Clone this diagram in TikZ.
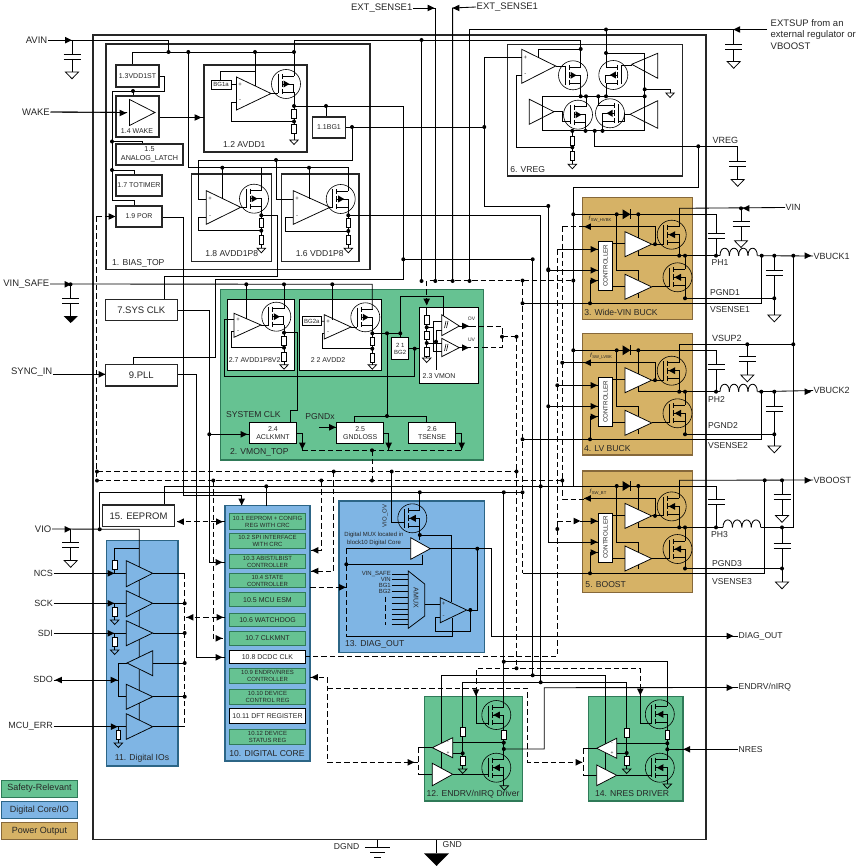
\documentclass[tikz,border=0pt]{standalone}
\usepackage{fontspec}
\setmainfont{Liberation Sans}
\definecolor{safegreen}{HTML}{66C292}
\definecolor{safeedge}{HTML}{2F7A58}
\definecolor{corblue}{HTML}{7FB5E4}
\definecolor{coredge}{HTML}{2C6586}
\definecolor{pwrtan}{HTML}{D6B266}
\definecolor{pwredge}{HTML}{86683A}
\definecolor{ink}{HTML}{262626}
\tikzset{
  wire/.style={line width=0.85pt,draw=black,line join=miter},
  dwire/.style={wire,dash pattern=on 5.5pt off 3pt},
  hair/.style={line width=0.6pt,draw=black},
  amp/.style={line width=0.75pt,draw=black},
  thickbox/.style={draw=black!85,line width=1.5pt,inner sep=0pt,align=center,text=ink},
  midbox/.style={draw=black!85,line width=1.2pt,inner sep=0pt,align=center,text=ink},
  thinbox/.style={draw=black,line width=0.7pt,fill=white,inner sep=0pt,align=center,text=ink},
  greencell/.style={draw=safeedge,line width=0.9pt,fill=safegreen,inner sep=0pt,align=center,text=ink},
  whitecell/.style={draw=black,line width=0.9pt,fill=white,inner sep=0pt,align=center,text=ink},
  txt/.style={inner sep=0.5pt,text=ink},
  f50/.style={font=\fontsize{5}{6}\selectfont},
  f60/.style={font=\fontsize{6}{7}\selectfont},
  f70/.style={font=\fontsize{7}{8.2}\selectfont},
  f72/.style={font=\fontsize{7.2}{8.6}\selectfont},
  f85/.style={font=\fontsize{8.6}{10}\selectfont},
  f90/.style={font=\fontsize{9}{10.5}\selectfont},
  f95/.style={font=\fontsize{9.5}{11.5}\selectfont},
  % transistor with drain on the right and the body arrow pointing right
  mosr/.pic={
    \draw[hair] (0,0) circle[radius=14.5];
    \draw[wire] (-8,-9.5)--(-8,9.5);
    \draw[wire] (-4,-10)--(-4,-5) (-4,-3)--(-4,3) (-4,5)--(-4,10);
    \draw[wire] (-4,-8)--(7.5,-8) (-4,8)--(7.5,8) (-4,0)--(7.5,0)--(7.5,8);
    \fill (3.5,0)--(-2.5,-3.5)--(-2.5,3.5)--cycle;
  },
  % same device with the body arrow pointing left
  mosq/.pic={
    \draw[hair] (0,0) circle[radius=14.5];
    \draw[wire] (-8,-9.5)--(-8,9.5);
    \draw[wire] (-4,-10)--(-4,-5) (-4,-3)--(-4,3) (-4,5)--(-4,10);
    \draw[wire] (-4,-8)--(7.5,-8) (-4,8)--(7.5,8) (-4,0)--(7.5,0)--(7.5,8);
    \fill (-3,0)--(3.5,-3.5)--(3.5,3.5)--cycle;
  },
  resv/.pic={\draw[line width=0.7pt,draw=black,fill=white] (-2.3,-4.4) rectangle (2.3,4.4);},
  gnds/.pic={\draw[amp] (-4.2,0)--(4.2,0)--(0,4.5)--cycle;},
  gndb/.pic={\draw[amp] (-6.5,0)--(6.5,0)--(0,6.8)--cycle;},
}
% filled junction dots
\newcommand\jn[1]{\foreach \q in {#1} {\fill \q circle[radius=2];}}
% small filled arrowheads centred on a point
\newcommand\ahr[1]{\fill #1 ++(3.4,0) -- ++(-6.8,-3.3) -- ++(0,6.6) -- cycle;}
\newcommand\ahl[1]{\fill #1 ++(-3.4,0) -- ++(6.8,-3.3) -- ++(0,6.6) -- cycle;}
\newcommand\ahd[1]{\fill #1 ++(0,3.4) -- ++(-3.3,-6.8) -- ++(6.6,0) -- cycle;}
% box given by its corners: style, name, x1, y1, x2, y2, text
\newcommand\bx[7]{\node[#1,minimum width={#5-#3},minimum height={#6-#4}] (#2) at ({(#3+#5)/2},{(#4+#6)/2}) {#7};}
% capacitor to ground: x, wire start y, first plate y, ground y
\newcommand\capgnd[4]{\draw[wire] (#1,#2)--(#1,#3) ({#1},{#3+5})--(#1,#4);
  \draw[wire] ({#1-8.5},#3)--({#1+8.5},#3) ({#1-8.5},{#3+5})--({#1+8.5},{#3+5});
  \pic at (#1,#4) {gndb};}
% four-turn inductor: x1, x2, y
\newcommand\coil[3]{\foreach \i in {0,1,2,3} {\draw[wire] ({#1+\i*(#2-#1)/4},#3) .. controls ({#1+\i*(#2-#1)/4},{#3-10}) and ({#1+(\i+1)*(#2-#1)/4},{#3-10}) .. ({#1+(\i+1)*(#2-#1)/4},#3);}}
% one switching power stage: bootstrap y, lower rail offset, bootstrap cap plate offset, controller name
\newcommand\buckstage[4]{%
  \begin{scope}[shift={(0,#1)}]
    \draw[wire] (573.3,0)--(716,0)--(716,#3) (716,{#3+5})--(716,41.4);
    \draw[wire] (707.5,#3)--(724.5,#3) (707.5,{#3+5})--(724.5,{#3+5});
    \draw[wire] (616.7,0)--(616.7,56)--(638.3,56)--(638.3,66);
    \draw[wire] (638.3,0)--(638.3,41.4)--(720,41.4);
    \draw[wire] (638.3,79)--(638.3,#2);
    \fill (622.5,-5)--(622.5,5)--(630.5,0)--cycle;
    \draw[wire] (630.7,-5)--(630.7,5);
    \draw[amp,fill=white] (625,17.4)--(625,42.4)--(651.7,29.9)--cycle;
    \draw[amp,fill=white] (625,60)--(625,85)--(651.7,72.6)--cycle;
    \draw[wire] (651.7,29.9)--(663.7,29.9) (651.7,72.6)--(669.5,72.6);
    \draw[wire] (655,29.9)--(655,12.4)--(584,12.4);
    \ahl{(587.5,12.4)}
    \pic at (671.7,20.4) {mosq};
    \pic at (677.5,63) {mosq};
    \draw[wire] (679.2,12.4)--(679.2,-6) (679.2,28.4)--(679.2,41.4);
    \draw[wire] (685,41.4)--(685,55) (685,71)--(685,#2);
    \node[thinbox,minimum width=14.4,minimum height=49] (#4) at (605.4,51.5) {\rotatebox{90}{\fontsize{6.2}{7}\selectfont CONTROLLER}};
    \draw[wire] (612.6,29)--(625,29) (612.6,72)--(625,72);
    \ahr{(594,35)} \ahr{(594,56)} \ahr{(594,66.5)}
    \jn{(616.7,0),(638.3,0),(655,29.9),(679.2,41.4),(685,41.4),(685,#2),(716,41.4)}
  \end{scope}}
\begin{document}
\begin{tikzpicture}[x=1pt,y=-1pt]
\useasboundingbox (0,0) rectangle (858,866);

% device outline
\draw[line width=1.7pt,draw=black!85] (93,35) rectangle (706,839.5);

% coloured function blocks
\bx{draw=safeedge,line width=1.3pt,fill=safegreen}{vmontop}{220.7}{289.3}{483.7}{460}{}
\bx{draw=coredge,line width=1.3pt,fill=corblue}{dios}{106.5}{540.7}{178}{766}{}
\bx{draw=coredge,line width=1.3pt,fill=corblue}{dcore}{225}{505.5}{310}{761}{}
\bx{draw=coredge,line width=1.3pt,fill=corblue}{diag}{339}{501}{484.3}{652.7}{}
\bx{draw=pwredge,line width=1.3pt,fill=pwrtan}{wvin}{582.7}{197.3}{692.7}{319.3}{}
\bx{draw=pwredge,line width=1.3pt,fill=pwrtan}{lvb}{582.7}{333.3}{692.7}{455}{}
\bx{draw=pwredge,line width=1.3pt,fill=pwrtan}{bst}{582.7}{471}{692.7}{592.7}{}
\bx{draw=safeedge,line width=1.3pt,fill=safegreen}{endrv}{424.7}{696.7}{522.7}{801}{}
\bx{draw=safeedge,line width=1.3pt,fill=safegreen}{nres}{588.7}{696.7}{683}{801}{}

% framed blocks
\bx{thickbox}{biastop}{106}{44}{370}{269.5}{}
\bx{midbox}{avdd1}{204}{65}{307}{152}{}
\bx{midbox}{avdd8}{191.7}{174}{271.7}{261.7}{}
\bx{midbox}{vdd18}{281.3}{174}{359}{261.7}{}
\bx{thickbox}{vreg}{507.7}{44.3}{682.7}{176}{}
\bx{thinbox}{box27}{227.3}{299.7}{294.3}{370.3}{}
\bx{thinbox}{box22}{299.3}{299.7}{381.7}{370.3}{}
\bx{thinbox}{box23}{419.3}{307.3}{478.3}{383.3}{}

% pin labels
\node[txt,f95,anchor=east] (pAVIN) at (48,40) {AVIN};
\node[txt,f95,anchor=east] (pWAKE) at (50.5,112) {WAKE};
\node[txt,f95,anchor=east] (pVS) at (50,284) {VIN\_SAFE};
\node[txt,f95,anchor=east] (pSYNC) at (53,372.5) {SYNC\_IN};
\node[txt,f95,anchor=east] (pVIO) at (52,529) {VIO};
\node[txt,f90,anchor=east] (pNCS) at (53.5,573.5) {NCS};
\node[txt,f90,anchor=east] (pSCK) at (53.5,603) {SCK};
\node[txt,f90,anchor=east] (pSDI) at (53.5,633) {SDI};
\node[txt,f90,anchor=east] (pSDO) at (53.5,679.5) {SDO};
\node[txt,f90,anchor=east] (pERR) at (53.5,726.5) {MCU\_ERR};
\node[txt,f95,anchor=east] (pES1) at (413,8) {EXT\_SENSE1};
\node[txt,f95,anchor=west] (pES2) at (476,7) {EXT\_SENSE1};
\node[txt,f95,anchor=west,align=left] (pEXT) at (770,34.5) {EXTSUP from an\\external regulator or\\VBOOST};
\node[txt,f90,anchor=west] (pVREG) at (712,140) {VREG};
\node[txt,f90,anchor=west] (pVIN) at (785,207.5) {VIN};
\node[txt,f90,anchor=west] (pB1) at (813,256) {VBUCK1};
\node[txt,f90,anchor=west] (pB2) at (813,390.5) {VBUCK2};
\node[txt,f90,anchor=west] (pBO) at (813,480) {VBOOST};
\node[txt,f90,anchor=west] (pSUP2) at (711.5,338.7) {VSUP2};
\node[txt,f85,anchor=west] at (711,263) {PH1};
\node[txt,f85,anchor=west] at (709.5,292.5) {PGND1};
\node[txt,f85,anchor=west] at (709.5,310) {VSENSE1};
\node[txt,f85,anchor=west] at (707.5,399.5) {PH2};
\node[txt,f85,anchor=west] at (707.5,425.7) {PGND2};
\node[txt,f85,anchor=west] at (707.5,445.7) {VSENSE2};
\node[txt,f85,anchor=west] at (710.5,534.7) {PH3};
\node[txt,f85,anchor=west] at (711.5,563.3) {PGND3};
\node[txt,f85,anchor=west] at (711.5,581.7) {VSENSE3};
\node[txt,f85,anchor=west] (pDIAG) at (738,636) {DIAG\_OUT};
\node[txt,f85,anchor=west] (pEND) at (738,687.5) {ENDRV/nIRQ};
\node[txt,f85,anchor=west] (pNRES) at (738,749.3) {NRES};
\node[txt,f85,anchor=west] at (442,845) {GND};
\node[txt,f85,anchor=east] at (360,847) {DGND};

% supply input and its decoupling
\draw[wire] (pAVIN.east)--(168.5,40)--(168.5,52);
\ahr{(68.5,40.2)}
\capgnd{72}{40}{54}{72}
\draw[wire] (132,65)--(132,52)--(294,52);
\draw[wire] (294,40)--(294,76) (294,92)--(294,140);
\draw[wire] (294,40)--(580.7,40)--(580.7,67.3);
\draw[wire] (421.5,40)--(421.5,281);
\draw[wire] (255,52)--(255,86) (255,71.5)--(220,71.5)--(220,80);
\draw[wire] (188.3,52)--(188.3,167.7)--(348.3,167.7)--(348.3,191);
\draw[wire] (222.3,167.7)--(222.3,199) (309,167.7)--(309,199) (261.3,167.7)--(261.3,190.7);

% bias latch chain
\draw[wire] (159,76.5)--(164.5,76.5)--(164.5,91)--(112,91)--(112,200)--(134.5,200)--(134.5,206);
\draw[wire] (133,91)--(133,96) (112,141.5)--(142,141.5)--(142,144) (112,170)--(134.5,170)--(134.5,175);
\draw[wire] (pWAKE.east)--(127,112.5) (159,117.5)--(204,117.5);
\ahr{(123,113)} \ahr{(198,117.5)}

% bias amplifier feedback and reference nets
\draw[wire] (236.5,102)--(231,102)--(231,121.5)--(294,121.5);
\draw[wire] (271,93.5)--(278,93.5);
\draw[wire] (294,106)--(403.3,106)--(403.3,279.3)--(215.7,279.3)--(215.7,357.3)--(133.7,357.3)--(133.7,364.7);
\draw[wire] (326,106)--(326,117);
\draw[wire] (345.5,127)--(484.3,127);
\draw[wire] (352,127)--(352,160)--(198.7,160)--(198.7,199)--(206.3,199);
\draw[wire] (276,160)--(276,199)--(293.3,199);
\draw[wire] (261.3,206.7)--(261.3,248.3) (348.3,207)--(348.3,248.3);
\draw[wire] (261.3,215.3)--(277.3,215.3)--(277.3,276.3)--(164.3,276.3)--(164.3,299.3);
\draw[wire] (206.3,217)--(198.3,217)--(198.3,230.7)--(261.3,230.7);
\draw[wire] (293.3,217)--(285.3,217)--(285.3,231)--(348.3,231);
\draw[wire] (240.7,207.3)--(246,207.3) (330,207.3)--(332.7,207.3);
\draw[wire] (348.3,215.3)--(540.7,215.3)--(540.7,682.3);
\draw[wire] (403.3,259.3)--(532.7,259.3)--(532.7,676);

% safe supply rail
\draw[wire] (pVS.east)--(372.3,284.3)--(372.3,309.3);
\draw[wire] (246.3,284.3)--(246.3,319) (284,284.3)--(284,308.7) (332.3,284.3)--(332.3,319.5);
\ahr{(68,284.3)}
\draw[wire] (70.5,284.3)--(70.5,298.5) (70.5,303.5)--(70.5,316);
\draw[wire] (62,298.5)--(79,298.5) (62,303.5)--(79,303.5);
\fill (63.5,316)--(78,316)--(70.7,323)--cycle;

% external sense and regulator supply pins
\draw[wire] (pES1.east)--(435.3,8)--(435.3,281);
\ahr{(431,8)}
\draw[wire] (pES2.west)--(452.6,8)--(452.6,281);
\ahl{(456,8)}
\draw[wire] (767,29.5)--(469.5,29.5)--(469.5,281);
\ahl{(736.7,29.5)}
\capgnd{733.7}{29.5}{44.3}{61.5}
\draw[wire] (606,29.5)--(606,67);
\draw[dwire] (426.7,303)--(426.7,280.5)--(573.5,280.5);
\ahd{(426.7,302)}

% regulator block
\draw[wire] (484.3,57.3)--(521.7,57.3) (484.3,57.3)--(484.3,206)--(548.3,206)--(548.3,542)--(598.3,542);
\draw[wire] (521.7,75)--(516.3,75)--(516.3,147.3)--(572.3,147.3);
\draw[wire] (538.3,57.5)--(538.3,49)--(580.7,49);
\draw[wire] (555.7,66)--(565,66);
\draw[wire] (580.7,83.3)--(580.7,96.3);
\draw[wire] (606,83)--(606,96.3);
\draw[wire] (631.7,65)--(621.3,65);
\draw[wire] (606,53)--(644.7,53)--(644.7,130.9);
\draw[wire] (542.3,130.9)--(644.7,130.9) (542.3,96.3)--(644.7,96.3) (542.3,96.3)--(542.3,130.9);
\draw[wire] (644.7,89.3)--(670,89.3)--(670,93);
\pic at (670,93) {gnds};
\draw[wire] (586,96.3)--(586,106.7) (598.3,96.3)--(598.3,105.3)--(602.5,105.3);
\draw[wire] (585.5,122.7)--(585.5,130.9) (602.5,121.3)--(602.5,130.9);
\draw[wire] (554,111.7)--(562,111.7)--(562,121)--(570,121);
\draw[wire] (630,114.3)--(624,114.3)--(624,121)--(618,121);
\draw[wire] (572.3,130.9)--(572.3,164.3);
\draw[wire] (594.7,130.9)--(594.7,146.3)--(737.7,146.3);
\draw[wire] (698.3,146.3)--(698.3,187.3)--(573.3,187.3)--(573.3,486);
\capgnd{737.7}{146.3}{161.5}{179.5}
\draw[amp] (521.7,49.3)--(521.7,83.3)--(555.7,66)--cycle;
\draw[amp] (631.7,64.3)--(657.7,53.3)--(657.7,78.3)--cycle;
\draw[amp] (529.3,99.3)--(529.3,124.3)--(554,111.7)--cycle;
\draw[amp] (630,114.3)--(657.7,100.7)--(657.7,128.3)--cycle;
\pic at (573,75.3) {mosr};
\pic[xscale=-1] at (613.3,75) {mosr};
\pic at (578,114.7) {mosr};
\pic[xscale=-1] at (610,113.3) {mosr};
\pic at (572.3,140.5) {resv};
\pic at (572.3,156) {resv};
\pic at (572.3,164.3) {gnds};
\node[txt,f60] at (525.3,57.5) {+};
\node[txt,f60] at (525.3,75) {-};
\jn{(580.7,49),(606,53),(644.7,89.3),(580.7,96.3),(586,96.3),(598.3,96.3),(606,96.3),(644.7,96.3),(572.3,130.9),(585.5,130.9),(594.7,130.9),(602.5,130.9),(572.3,147.3),(698.3,146.3)}

% switching stages
\buckstage{214.3}{84}{19}{ctrlA}
\buckstage{350.3}{84}{13.7}{ctrlB}
\buckstage{486}{82.5}{13.4}{ctrlC}

% first stage connections
\draw[wire] (pVIN.west)--(679.2,208.3);
\ahl{(746,208.3)}
\capgnd{741}{208.3}{221.7}{240.7}
\coil{720}{757.3}{255.7}
\draw[wire] (757.3,255.7)--(pB1.west);
\ahr{(808,255.7)}
\draw[wire] (761.7,255.7)--(761.7,303.3)--(522.5,303.3);
\draw[wire] (684,298.3)--(774.3,298.3);
\capgnd{774.3}{255.7}{270.7}{315}
\draw[wire] (793.3,255.7)--(793.3,527.4)--(782,527.4);
\draw[wire] (557.3,249.3)--(598.3,249.3) (548.3,270.3)--(598.3,270.3) (590,280.8)--(598.3,280.8) (590,280.8)--(590,303.3);
\draw[dwire] (562.3,226.7)--(584,226.7);
\draw[dwire] (562.3,226.7)--(562.3,499)--(584,499);

% second stage connections
\draw[wire] (679.2,344.3)--(793.3,344.3);
\capgnd{747.3}{344.3}{356.7}{375}
\coil{720}{757.3}{391.7}
\draw[wire] (757.3,391.7)--(pB2.west);
\ahr{(808,391.7)}
\draw[wire] (761.3,391.7)--(761.3,439.3)--(522.5,439.3);
\draw[wire] (684,434.3)--(774.3,434.3);
\capgnd{774.3}{391.7}{406.5}{446}
\draw[wire] (557.3,385.3)--(598.3,385.3) (548.3,406.3)--(598.3,406.3) (590,416.8)--(598.3,416.8) (590,416.8)--(590,439.3);
\draw[wire] (562.3,362.7)--(584,362.7);

% third stage connections
\draw[wire] (679.2,480.3)--(pBO.west);
\ahr{(808,480.3)}
\draw[wire] (720,527.4)--(723,527.4) (760.7,527.4)--(782,527.4);
\coil{723}{760.7}{527.4}
\draw[wire] (764.7,480.3)--(764.7,573.3)--(522.5,573.3);
\draw[wire] (684,568.5)--(782,568.5);
\capgnd{782}{480.3}{494}{515.5}
\capgnd{782}{527.4}{543.3}{582}
\draw[wire] (590,552.5)--(598.3,552.5) (590,552.5)--(590,573.3);
\draw[dwire] (557.3,521)--(578,521);
\draw[wire] (580,521)--(598.3,521);
\ahr{(577,521)}

\jn{(573.3,214.3),(573.3,350.3),(741,208.3),(761.7,255.7),(774.3,255.7),(793.3,255.7),(774.3,298.3),(590,303.3)}
\jn{(557.3,385.3),(548.3,270.3),(548.3,406.3),(562.3,362.7),(747.3,344.3),(793.3,344.3),(761.3,391.7),(774.3,391.7),(774.3,434.3),(590,439.3)}
\jn{(764.7,480.3),(782,480.3),(782,527.4),(782,568.5),(590,573.3),(557.3,529),(522.5,303.3),(522.5,439.3),(573.3,280.5)}

% rails between the regulators and the logic
\draw[dwire] (557.3,249.3)--(557.3,656)--(306,656);
\draw[dwire] (522.5,280.5)--(522.5,573.3);
\draw[dwire] (516.5,336.7)--(516.5,668.3);
\draw[dwire] (96.5,216.5)--(116,216.5) (96.5,216.5)--(96.5,480.5);
\ahr{(112,216.5)}
\draw[dwire] (97,471.5)--(516.5,471.5);
\draw[dwire] (97,480.5)--(562.3,480.5);
\draw[wire] (164.3,505)--(164.3,486.3)--(573.3,486.3);
\draw[wire] (99.7,529.3)--(99.7,492.3)--(522.5,492.3);
\draw[wire] (183.3,217)--(162,217) (183.3,217)--(183.3,495)--(241.7,495)--(241.7,505);
\ahd{(241.7,502)}
\draw[wire] (266.3,486.3)--(266.3,505.5);
\draw[wire] (177.3,310.3)--(209.3,310.3)--(209.3,562.3)--(225,562.3);
\draw[wire] (209.3,434.3)--(249.3,434.3);
\draw[wire] (177.3,374.3)--(196.3,374.3)--(196.3,657.3)--(225,657.3);
\draw[dwire] (213.3,480.5)--(213.3,638.3)--(225,638.3);
\draw[wire] (pSYNC.east|-105,374.3)--(105.3,374.3);
\ahr{(102,374.3)}
\ahr{(219,562.3)} \ahr{(219,657.3)} \ahr{(219,638.3)} \ahr{(244,434.3)}
\draw[dwire] (177,521.7)--(225,521.7);
\ahl{(180.5,521.7)} \ahr{(219.5,521.7)}
\draw[dwire] (186,617.3)--(225,617.3);
\ahl{(190,617.3)} \ahr{(220,617.3)}
\draw[dwire] (321.3,480.5)--(321.3,550.3)--(311,550.3);
\draw[dwire] (333.7,471.5)--(333.7,571)--(311,571);
\ahl{(315,550.3)} \ahl{(315,571)}
\draw[dwire] (310,587.3)--(346.3,587.3);
\ahr{(342.5,587.3)}
\draw[wire] (391.7,471.5)--(391.7,522.3)--(404.3,522.3);
\draw[wire] (419.8,492.3)--(419.8,510.3);
\draw[wire] (503.8,492.3)--(503.8,707);
\draw[wire] (477.3,548.7)--(491.7,548.7)--(491.7,636)--(pDIAG.west);
\ahr{(730,636)}
\jn{(97,471.5),(97,480.5),(213.3,480.5),(321.3,480.5),(372,480.5),(562.3,480.5),(333.7,471.5),(391.7,471.5),(516.5,471.5),(516.5,336.7)}
\jn{(209.3,434.3),(266.3,486.3),(540.7,486.3),(419.8,492.3),(503.8,492.3),(522.5,492.3),(99.7,529.3),(548.3,269.3),(403.3,259.3),(484.3,127),(352,127),(326,106),(276,160),(222.3,167.7),(309,167.7)}
\jn{(421.5,40),(421.5,281),(435.3,281),(452.6,281),(469.5,281),(522.5,280.5),(168.5,52),(188.3,52),(255,52),(294,52),(294,106),(294,121.5),(261.3,215.3),(261.3,230.7),(348.3,215.3),(348.3,231),(606,29.5)}
\jn{(133,91),(112,141.5),(112,170),(246.3,284.3),(284,284.3),(332.3,284.3),(70.5,284.3)}
\jn{(548.3,206),(532.7,259.3)}

% block labels and small boxes of the bias section
\bx{midbox,fill=white,f70}{vdd1st}{116}{65}{159}{87}{1.3VDD1ST}
\bx{midbox,fill=white}{wakebox}{116}{96}{159}{137}{}
\draw[amp,fill=white] (129.5,99.5)--(129.5,125.5)--(155,112.5)--cycle;
\draw[wire] (pWAKE.east)--(127,112.5);
\ahr{(123,113)}
\node[txt,f70] at (137,131) {1.4 WAKE};
\bx{midbox,fill=white,f72}{alatch}{116}{144}{183}{165}{1.5\\ANALOG\_LATCH}
\bx{midbox,fill=white,f70}{totimer}{116}{175}{162}{196}{1.7 TOTIMER}
\bx{midbox,fill=white,f70}{por}{116}{206}{162}{227}{1.9 POR}
\bx{midbox,fill=white,f70}{bgone}{312.5}{117}{345.5}{138}{1.1BG1}
\bx{thinbox,f60}{bgonea}{211}{80}{231}{89}{BG1a}
\draw[wire] (bgonea.east)--(236.5,84.5);
\draw[amp] (236.5,77)--(236.5,110)--(271,93.5)--cycle;
\draw[amp] (206.3,190.7)--(206.3,224.3)--(240.7,207.3)--cycle;
\draw[amp] (293.3,190.7)--(293.3,224.3)--(330,207.3)--cycle;
\node[txt,f60] at (240,84.5) {+};
\node[txt,f60] at (240,101) {-};
\node[txt,f60] at (210,199) {+};
\node[txt,f60] at (210,217) {-};
\node[txt,f60] at (297,199) {+};
\node[txt,f60] at (297,217) {-};
\pic at (286,84) {mosr};
\pic at (254,198.7) {mosr};
\pic at (340.7,199) {mosr};
\pic at (294,113.5) {resv};
\pic at (294,129) {resv};
\pic at (294,140) {gnds};
\pic at (261.3,222.5) {resv};
\pic at (261.3,240) {resv};
\pic at (261.3,248.3) {gnds};
\pic at (348.3,222.5) {resv};
\pic at (348.3,240) {resv};
\pic at (348.3,248.3) {gnds};
\node[txt,f85] at (244.3,145) {1.2 AVDD1};
\node[txt,f85] at (231.7,254) {1.8 AVDD1P8};
\node[txt,f85] at (319.7,254) {1.6 VDD1P8};
\node[txt,f85] at (138.3,263) {1. BIAS\_TOP};
\node[txt,f85] at (527.7,169.7) {6. VREG};
\bx{thickbox,fill=white,f95}{sysclk}{105.3}{299.3}{177.3}{320.7}{7.SYS CLK}
\bx{thickbox,fill=white,f95}{pll}{105.3}{364.7}{177.3}{386}{9.PLL}
\bx{thickbox,fill=white,f95}{eeprom}{102.7}{505}{174.3}{526.7}{15. EEPROM}

% supply monitor block
\draw[wire] (234,319.3)--(224.3,319.3)--(224.3,376.3)--(414.7,376.3)--(414.7,348.7);
\draw[wire] (234,331.7)--(231,331.7)--(231,347.7)--(284,347.7);
\draw[wire] (261,325)--(268.3,325);
\draw[wire] (284,324.7)--(284,364.7);
\draw[wire] (284,332.7)--(297.3,332.7)--(297.3,410.3)--(290,410.3)--(290,422.7);
\draw[amp] (234,313.3)--(234,337.3)--(261,325)--cycle;
\pic at (276.3,316.7) {mosr};
\pic at (284,341.2) {resv};
\pic at (284,357) {resv};
\pic at (284,364.7) {gnds};
\node[txt,f60] at (238,319.3) {+};
\node[txt,f60] at (238,331.7) {-};
\node[txt,f70] at (254.7,359.7) {2.7 AVDD1P8V2};
\bx{thinbox,f60}{bgtwoa}{302}{316.7}{321.7}{325.7}{BG2a}
\draw[wire] (bgtwoa.east)--(324.3,321.3);
\draw[wire] (324.3,333)--(322.3,333)--(322.3,348.7)--(372.3,348.7);
\draw[wire] (351,327)--(357.3,327);
\draw[wire] (372.3,325.3)--(372.3,364.7);
\draw[amp] (324.3,314.7)--(324.3,339)--(351,327)--cycle;
\pic at (365.3,317.3) {mosr};
\pic at (372.3,341.3) {resv};
\pic at (372.3,357.5) {resv};
\pic at (372.3,364.7) {gnds};
\node[txt,f60] at (328,321.3) {+};
\node[txt,f60] at (328,333) {-};
\node[txt,f70] at (328,360) {2 2 AVDD2};
\draw[wire] (372.3,333.3)--(400.3,333.3);
\draw[wire] (387,333.3)--(387,416);
\draw[wire] (354.3,422.7)--(354.3,416)--(426.7,416)--(426.7,422.7);
\draw[wire] (400.3,337.3)--(400.3,296.7)--(443.3,296.7)--(443.3,316);
\bx{thinbox,f60}{bgtwo}{391.7}{337.3}{408.7}{359.7}{2 1\\BG2}
\draw[wire] (bgtwo.east|-408.7,348.7)--(419.3,348.7);
\draw[wire] (426.7,308)--(426.7,358);
\pic at (426.7,319.5) {resv};
\pic at (426.7,335.3) {resv};
\pic at (426.7,351.7) {resv};
\pic at (426.7,358) {gnds};
\draw[wire] (426.7,327.3)--(433.3,327.3)--(433.3,321.7)--(441.7,321.7) (433.3,327.3)--(433.3,351)--(441.7,351);
\draw[wire] (426.7,343)--(441.7,343);
\draw[wire] (436,341.7)--(436,370) (436,341.7)--(436,330.3)--(441.7,330.3);
\draw[amp] (441.7,314.7)--(441.7,335.7)--(459.3,326)--cycle;
\draw[amp] (441.7,338.3)--(441.7,356.7)--(459.3,347.7)--cycle;
\draw[hair] (444.5,328)--(446,321) (446.5,328)--(448,321) (444.5,351)--(446,344) (446.5,351)--(448,344);
\draw[wire] (459.3,326)--(470,326) (459.3,347.7)--(470,347.7);
\ahr{(465.5,326)} \ahr{(465.5,347.7)}
\node[txt,f50] at (471.5,319) {OV};
\node[txt,f50] at (471.5,339.5) {UV};
\node[txt,f70] at (439,375.7) {2.3 VMON};
\draw[dwire] (470,326)--(502,326)--(502,347.7)--(470,347.7);
\draw[dwire] (502,336.7)--(516.5,336.7);
\jn{(284,332.7),(284,347.7),(372.3,333.3),(372.3,348.7),(387,333.3),(400.3,333.3),(387,416),(414.7,348.7),(426.7,327.3),(426.7,343),(436,341.7),(502,336.7)}

\bx{thinbox,f70}{aclk}{249.3}{422.7}{296.7}{443.3}{2.4\\ACLKMNT}
\bx{thinbox,f70}{gndl}{336.7}{422.7}{383.7}{443.3}{2.5\\GNDLOSS}
\bx{thinbox,f70}{tsen}{408.3}{422.7}{455.7}{443.3}{2.6\\TSENSE}
\draw[wire] (296.7,433.7)--(302.3,433.7)--(302.3,450);
\draw[wire] (383.7,433.7)--(388.7,433.7)--(388.7,450);
\draw[wire] (455.7,433.7)--(461.7,433.7)--(461.7,450);
\ahd{(302.3,446)} \ahd{(388.7,446)} \ahd{(461.7,446)}
\draw[dwire] (302.3,450.3)--(463.3,450.3);
\draw[dwire] (372,450.3)--(372,480.5);
\fill (372,450.3) circle[radius=2];
\draw[wire] (319.3,427.3)--(336.7,427.3);
\ahr{(332.5,427.3)}
\node[txt,f85] at (253.3,415) {SYSTEM CLK};
\node[txt,f85] at (320,417) {PGNDx};
\node[txt,f85] at (259.3,452) {2. VMON\_TOP};

% input/output cells
\draw[wire] (pVIO.east)--(139.3,529.3)--(139.3,720);
\ahr{(68,529.3)}
\capgnd{70.7}{529.3}{542.3}{560.5}
\draw[wire] (139.3,548.3)--(114.7,548.3)--(114.7,573.3);
\draw[wire] (pNCS.east|-0,573.3)--(126.3,573.3);
\draw[wire] (pSCK.east|-0,603.3)--(126.3,603.3) (114.7,603.3)--(114.7,620);
\draw[wire] (pSDI.east|-0,633.3)--(126.3,633.3) (114.7,633.3)--(114.7,650);
\draw[wire] (pERR.east|-0,726.7)--(126.3,726.7) (118.3,726.7)--(118.3,743);
\draw[wire] (pSDO.east|-0,680)--(118.3,680);
\draw[wire] (127,663)--(118.3,663)--(118.3,696.7)--(126.3,696.7);
\ahl{(58.5,680)} \ahr{(114,680)}
\ahr{(111,573.3)} \ahr{(111,603.3)} \ahr{(111,633.3)} \ahr{(114.3,726.7)}
\foreach \a/\b/\c in {560.7/586.7/573.3,590.7/616.7/603.3,620.7/645.7/633,684.3/709.3/696.7,713.7/739.3/726.7}{
  \draw[amp,fill=corblue] (126.3,\a)--(126.3,\b)--(152.7,\c)--cycle;
}
\draw[amp,fill=corblue] (127,663)--(152.7,650.7)--(152.7,675.7)--cycle;
\pic at (114.7,565) {resv};
\pic at (114.7,611.5) {resv};
\pic at (114.7,641.5) {resv};
\pic at (118.3,735) {resv};
\pic at (114.7,620) {gnds};
\pic at (114.7,650) {gnds};
\pic at (118.3,743) {gnds};
\draw[wire] (152.7,573.3)--(184.7,573.3) (152.7,603.3)--(184.7,603.3) (152.7,633)--(184.7,633) (152.7,663)--(184.7,663) (152.7,696.7)--(184.7,696.7) (152.7,726.7)--(184.7,726.7);
\draw[dwire] (184.7,573.3)--(184.7,726.7);
\jn{(184.7,603.3),(184.7,633),(184.7,663),(184.7,696.7)}
\node[txt,f85] at (142,758) {11. Digital IOs};

% digital core cells
\bx{greencell,f60}{c1}{229.3}{513.7}{305.7}{529.3}{10.1 EEPROM + CONFIG\\REG WITH CRC}
\bx{greencell,f60}{c2}{229.3}{533.3}{305.7}{548.7}{10.2 SPI INTERFACE\\WITH CRC}
\bx{greencell,f60}{c3}{229.3}{554.3}{305.7}{568.7}{10.3 ABIST/LBIST\\CONTROLLER}
\bx{greencell,f60}{c4}{229.3}{573.3}{305.7}{587.7}{10.4 STATE\\CONTROLLER}
\bx{greencell,f70}{c5}{229.3}{592.7}{305.7}{606.7}{10.5 MCU ESM}
\bx{greencell,f70}{c6}{229.3}{613.3}{305.7}{626.7}{10.6 WATCHDOG}
\bx{greencell,f70}{c7}{229.3}{631.3}{305.7}{645.7}{10.7 CLKMNT}
\bx{whitecell,f70}{c8}{229.3}{650.3}{305.7}{663.7}{10.8 DCDC CLK}
\bx{greencell,f60}{c9}{229.3}{668.3}{305.7}{683.7}{10.9 ENDRV/NRES\\CONTROLLER}
\bx{greencell,f60}{c10}{229.3}{689.3}{305.7}{704.7}{10.10 DEVICE\\CONTROL REG}
\bx{whitecell,f70}{c11}{229.3}{708.7}{305.7}{723.3}{10.11 DFT REGISTER}
\bx{greencell,f60}{c12}{229.3}{729.3}{305.7}{744.7}{10.12 DEVICE\\STATUS REG}
\node[txt,f85] at (267,754) {10. DIGITAL CORE};

% diagnostic output block
\pic at (412.3,518.3) {mosq};
\node[txt,f60,rotate=90] at (385,516) {VIO\_OV};
\draw[wire] (419.8,526.3)--(419.8,540);
\draw[wire] (419.8,535)--(451.7,535)--(451.7,602);
\draw[wire] (422.7,555)--(422.7,564.3)--(346.3,564.3);
\draw[dwire] (346.3,548.7)--(346.3,636);
\draw[wire] (346.3,548.7)--(410.7,548.7);
\draw[wire] (346.3,636)--(452.7,636)--(452.7,618);
\draw[amp,fill=white] (410.7,537.7)--(410.7,559.3)--(430.3,548.7)--cycle;
\draw[wire] (430.3,548.7)--(477.3,548.7);
\node[txt,f60] at (374,534.7) {Digital MUX located in};
\node[txt,f60] at (374,543.3) {block10 Digital Core};
\foreach \yy in {574,579.3,585.3,591.3,597.3,603.3,609,614.3,619.3,624.7}{\draw[wire] (391.7,\yy)--(408.3,\yy);}
\node[txt,f60,anchor=east] at (391.5,574) {VIN\_SAFE};
\node[txt,f60,anchor=east] at (391.5,579.6) {VIN};
\node[txt,f60,anchor=east] at (391.5,585.5) {BG1};
\node[txt,f60,anchor=east] at (391.5,591.5) {BG2};
\draw[dwire] (385.7,596.7)--(385.7,625);
\draw[amp,fill=corblue] (408.3,571)--(424.7,584)--(424.7,616)--(408.3,628.3)--cycle;
\node[txt,f70,rotate=-90] at (416,598) {AMUX};
\draw[wire] (424.7,604.3)--(440.3,604.3);
\draw[wire] (440.3,617)--(435.3,617)--(435.3,631.7)--(470.3,631.7)--(470.3,610);
\draw[wire] (466.7,610)--(477.3,610)--(477.3,548.7);
\draw[amp,fill=corblue] (440.3,597.7)--(440.3,622.7)--(466.7,610)--cycle;
\node[txt,f60] at (443.5,604) {+};
\node[txt,f60] at (443.5,617) {-};
\node[txt,f85] at (374.7,644.7) {13. DIAG\_OUT};
\jn{(419.8,535),(346.3,564.3),(477.3,548.7),(470.3,610)}

% driver feeds
\draw[wire] (503.8,661.7)--(667.3,661.7)--(667.3,706.3);
\draw[dwire] (476,692)--(476,668.3)--(640.3,668.3)--(640.3,692);
\draw[wire] (476,692)--(476,723.3)--(488.3,723.3);
\draw[wire] (640.3,692)--(640.3,723.3)--(651.8,723.3);
\ahd{(476,692.7)} \ahd{(640.3,692)}
\draw[wire] (441.3,675.3)--(605.7,675.3) (441.3,675.3)--(441.3,770) (605.7,675.3)--(605.7,770);
\draw[wire] (462.7,769)--(462.7,682.3)--(626.7,682.3)--(626.7,769);
\draw[wire] (503.8,723)--(503.8,759.7) (503.8,775.7)--(503.8,785.7);
\draw[wire] (667.3,722.3)--(667.3,759.7) (667.3,775.7)--(667.3,784);
\draw[wire] (452.7,742.7)--(503.8,742.7) (452.7,753.3)--(462.7,753.3);
\draw[wire] (616.7,743.3)--(667.3,743.3) (616.7,753)--(626.7,753);
\draw[wire] (452.7,774.3)--(488.3,774.3) (616.7,775.3)--(651.8,775.3);
\draw[wire] (503.8,749)--(544.3,749)--(544.3,687.7)--(pEND.west);
\ahr{(730,687.7)}
\draw[wire] (pNRES.west)--(667.3,749.3);
\ahl{(686.7,749.3)}
\draw[dwire] (310,677.3)--(327.3,677.3)--(327.3,762.3)--(418,762.3);
\draw[dwire] (327.3,688.3)--(527.3,688.3)--(527.3,762.3)--(583.3,762.3);
\ahl{(314.5,677.3)} \ahr{(411,762.3)} \ahr{(579,762.3)}
\draw[wire] (432.3,747.7)--(418,747.7) (418,774.3)--(432.3,774.3);
\draw[dwire] (418,747.7)--(418,774.3);
\draw[wire] (596.7,748.3)--(583.3,748.3) (583.3,775.3)--(596.7,775.3);
\draw[dwire] (583.3,748.3)--(583.3,775.3);
\draw[amp,fill=white] (432.3,747.7)--(452.7,737.7)--(452.7,757.7)--cycle;
\draw[amp,fill=white] (432.3,763.3)--(432.3,785.7)--(452.7,774.3)--cycle;
\draw[amp,fill=white] (596.7,748.3)--(616.7,738.3)--(616.7,758.3)--cycle;
\draw[amp,fill=white] (596.7,765)--(596.7,785.7)--(616.7,775.3)--cycle;
\node[txt,f50] at (448,742.7) {-};
\node[txt,f50] at (448,753.3) {+};
\node[txt,f50] at (612,743.3) {-};
\node[txt,f50] at (612,753) {+};
\pic at (496.3,715) {mosq};
\pic at (496.3,767.7) {mosq};
\pic at (659.8,714.3) {mosq};
\pic at (659.8,767.7) {mosq};
\pic at (503.8,734.7) {resv};
\pic at (667.3,735.2) {resv};
\pic at (462.7,731.5) {resv};
\pic at (462.7,760.7) {resv};
\pic at (626.7,732.5) {resv};
\pic at (626.7,761) {resv};
\pic at (462.7,769) {gnds};
\pic at (626.7,769) {gnds};
\pic at (504.3,785.7) {gnds};
\pic at (667.3,784) {gnds};
\jn{(503.8,661.7),(516.5,668.3),(532.7,675.3),(540.7,682.3),(503.8,742.7),(503.8,749),(462.7,753.3),(667.3,743.3),(667.3,749.3),(626.7,753)}
\node[txt,f85] at (473,794) {12. ENDRV/nIRQ Driver};
\node[txt,f85] at (632,794) {14. NRES DRIVER};

% power stage captions
\node[txt,f85] at (621,312.3) {3. Wide-VIN BUCK};
\node[txt,f85] at (607.3,448.3) {4. LV BUCK};
\node[txt,f85] at (605.7,584.7) {5. BOOST};
\node[txt] at (600,219) {\fontsize{6}{7}\selectfont\itshape f\/\raisebox{-1pt}{\upshape\fontsize{4.2}{5}\selectfont SW\_HVBK}};
\node[txt] at (601,356.7) {\fontsize{6}{7}\selectfont\itshape f\/\raisebox{-1pt}{\upshape\fontsize{4.2}{5}\selectfont SW\_LVBK}};
\node[txt] at (598,492) {\fontsize{6}{7}\selectfont\itshape f\/\raisebox{-1pt}{\upshape\fontsize{4.2}{5}\selectfont SW\_BT}};

% ground pins
\draw[wire] (436.3,839.5)--(436.3,853.3);
\fill (424,853.3)--(449,853.3)--(436.5,866)--cycle;
\draw[wire] (377.5,839.5)--(377.5,847);
\draw[wire] (365,847)--(390,847) (370,852)--(385,852) (374,857)--(381,857);

% colour key
\bx{draw=safeedge,line width=0.9pt,fill=safegreen,text=ink,inner sep=0pt,f90}{keyA}{1.3}{780}{77.7}{797.3}{Safety-Relevant}
\bx{draw=coredge,line width=0.9pt,fill=corblue,text=ink,inner sep=0pt,f90}{keyB}{1.3}{801.7}{77.7}{818.3}{Digital Core/IO}
\bx{draw=pwredge,line width=0.9pt,fill=pwrtan,text=ink,inner sep=0pt,f90}{keyC}{1.3}{822.7}{77.7}{839.3}{Power Output}
\end{tikzpicture}
\end{document}
